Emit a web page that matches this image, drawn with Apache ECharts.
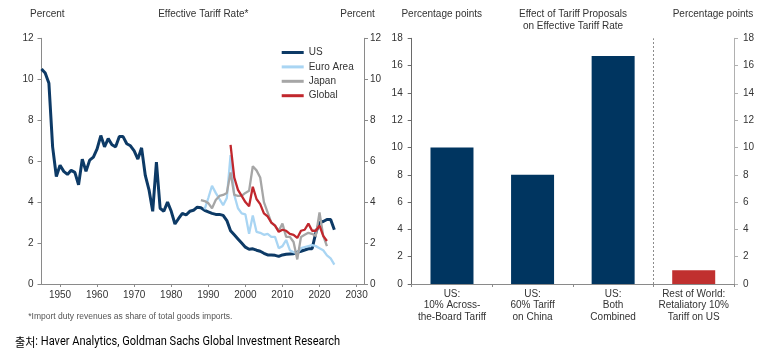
<!DOCTYPE html>
<html><head><meta charset="utf-8">
<script src="https://cdn.jsdelivr.net/npm/echarts@6/dist/echarts.min.js"></script>
<style>html,body{margin:0;padding:0;background:#fff}#c{width:767px;height:354px}</style>
</head><body><div id="c"></div>
<script>
// ---- Left panel: effective tariff rate (%), annual ----
const usStart = 1945;
const usValues = [10.5,10.3,9.8,6.7,5.25,5.8,5.5,5.35,5.55,5.45,
  4.85,6.1,5.5,6.05,6.2,6.6,7.25,6.7,7.1,6.8,
  6.7,7.2,7.2,6.85,6.75,6.5,6.1,6.65,5.3,4.6,
  3.55,5.95,3.7,3.55,4.0,3.55,2.93,3.2,3.45,3.37,
  3.55,3.6,3.75,3.72,3.6,3.52,3.45,3.4,3.4,3.35,
  3.1,2.6,2.4,2.2,2.0,1.8,1.7,1.72,1.65,1.6,
  1.5,1.42,1.42,1.4,1.35,1.42,1.45,1.47,1.48,1.55,
  1.6,1.66,1.72,1.72,2.5,3.0,3.05,3.15,3.15,2.65];
const euroStart = 1989;
const euroValues = [3.65,4.2,4.8,4.45,4.15,3.85,4.2,6.3,4.35,3.7,
  3.45,3.4,2.45,3.35,2.55,2.5,2.4,2.45,2.3,2.3,
  1.75,1.85,2.15,1.65,1.55,1.5,1.75,1.8,1.85,1.9,
  1.85,1.75,1.65,1.4,1.25,0.95];
const japanStart = 1988;
const japanValues = [4.1,4.05,3.95,3.7,4.1,4.3,4.35,4.45,5.45,4.35,
  4.3,4.3,4.45,4.55,5.75,5.55,5.2,4.0,3.5,3.0,
  2.85,2.6,2.95,2.3,2.3,2.05,1.2,2.3,2.4,2.5,
  2.45,2.35,3.5,2.35,1.85];
const globalStart = 1996;
const globalValues = [6.8,5.2,4.6,4.3,4.0,3.8,4.75,4.15,3.9,3.45,
  3.3,3.0,2.85,2.55,2.65,2.6,2.45,2.4,2.25,2.6,
  2.65,2.95,2.6,2.6,2.85,2.35,2.1];
const yearTicks = [1950,1960,1970,1980,1990,2000,2010,2020,2030];

// ---- Right panel: effect of tariff proposals (pp) ----
const barCategories = ['US:\n10% Across-\nthe-Board Tariff','US:\n60% Tariff\non China','US:\nBoth\nCombined','Rest of World:\nRetaliatory 10%\nTariff on US'];
const barValues = [10, 8, 16.7, 1];
const usProposalCount = 3; // first three bars are US proposals; divider after them

const pairs = (start, vals) => vals.map((v, i) => [start + i, v]);
const FONT = "'Liberation Sans', Arial, sans-serif";
const TXT = '#333';
const AX = '#8a8a8a';

const chart = echarts.init(document.getElementById('c'), null, {renderer: 'canvas'});

function yAx(grid, pos, max, interval, margin, color) {
  return {
    type: 'value', gridIndex: grid, position: pos, min: 0, max: max, interval: interval,
    axisLine: {show: true, lineStyle: {color: color, width: 1}},
    axisTick: {show: true, length: 4, lineStyle: {color: color}},
    axisLabel: {color: TXT, fontSize: 10, fontFamily: FONT, margin: margin},
    splitLine: {show: false}
  };
}

const lineCommon = {type: 'line', xAxisIndex: 0, yAxisIndex: 0, showSymbol: false, symbol: 'none', smooth: false, z: 3};

chart.setOption({
  animation: false,
  backgroundColor: '#fff',
  textStyle: {fontFamily: FONT},
  grid: [
    {left: 41.5, right: 403, top: 38.3, bottom: 70},
    {left: 411.7, right: 33, top: 38.3, bottom: 70}
  ],
  xAxis: [
    {
      type: 'value', gridIndex: 0, min: 1945, max: 2032,
      axisLine: {show: true, lineStyle: {color: AX}},
      axisTick: {show: true, length: 3, lineStyle: {color: AX}, customValues: yearTicks},
      axisLabel: {color: TXT, fontSize: 10, fontFamily: FONT, margin: 6, customValues: yearTicks, formatter: (v) => String(v)},
      splitLine: {show: false}
    },
    {
      type: 'category', gridIndex: 1, data: barCategories,
      axisLine: {show: true, lineStyle: {color: AX}},
      axisTick: {show: true, length: 3, lineStyle: {color: AX}},
      axisLabel: {color: TXT, fontSize: 10, fontFamily: FONT, margin: 4, lineHeight: 11.5, interval: 0},
      splitLine: {show: false}
    },
    {
      type: 'value', gridIndex: 1, min: 0, max: barCategories.length, show: false
    }
  ],
  yAxis: [
    yAx(0, 'left', 12, 2, 8, AX),
    yAx(0, 'right', 12, 2, 6, AX),
    yAx(1, 'left', 18, 2, 9, '#6a6a6a'),
    yAx(1, 'right', 18, 2, 9, '#b0b0b0')
  ],
  legend: {
    orient: 'vertical', left: 281.7, top: 46.5, padding: 0,
    icon: 'rect', itemWidth: 22, itemHeight: 3, itemGap: 2.4,
    textStyle: {color: TXT, fontSize: 10, fontFamily: FONT, lineHeight: 12},
    data: ['US', 'Euro Area', 'Japan', 'Global']
  },
  series: [
    Object.assign({}, lineCommon, {name: 'US', data: pairs(usStart, usValues), color: '#0d3a66', lineStyle: {width: 3, color: '#0d3a66'}}),
    Object.assign({}, lineCommon, {name: 'Euro Area', data: pairs(euroStart, euroValues), color: '#a9d5f3', lineStyle: {width: 2.3, color: '#a9d5f3'}}),
    Object.assign({}, lineCommon, {name: 'Japan', data: pairs(japanStart, japanValues), color: '#a6a6a6', lineStyle: {width: 2.3, color: '#a6a6a6'}}),
    Object.assign({}, lineCommon, {name: 'Global', data: pairs(globalStart, globalValues), color: '#c1272d', lineStyle: {width: 2.3, color: '#c1272d'}}),
    {
      type: 'bar', xAxisIndex: 1, yAxisIndex: 2, barWidth: 43,
      data: barValues.map((v, i) => ({value: v, itemStyle: {color: i >= usProposalCount ? '#c0302f' : '#003560'}}))
    },
    {
      type: 'line', xAxisIndex: 2, yAxisIndex: 2, data: [], silent: true,
      markLine: {
        silent: true, symbol: 'none', label: {show: false},
        lineStyle: {color: '#8c8c8c', type: [2, 2], width: 1},
        data: [{xAxis: usProposalCount}]
      }
    }
  ],
  graphic: [
    {type: 'text', x: 47.3, y: 14.3, style: {text: 'Percent', font: '10px ' + FONT, fill: TXT, textAlign: 'center', textVerticalAlign: 'middle'}},
    {type: 'text', x: 203.3, y: 14.3, style: {text: 'Effective Tariff Rate*', font: '10px ' + FONT, fill: TXT, textAlign: 'center', textVerticalAlign: 'middle'}},
    {type: 'text', x: 357.5, y: 14.3, style: {text: 'Percent', font: '10px ' + FONT, fill: TXT, textAlign: 'center', textVerticalAlign: 'middle'}},
    {type: 'text', x: 441.7, y: 14.3, style: {text: 'Percentage points', font: '10px ' + FONT, fill: TXT, textAlign: 'center', textVerticalAlign: 'middle'}},
    {type: 'text', x: 573, y: 20.7, style: {text: 'Effect of Tariff Proposals\non Effective Tariff Rate', font: '10px ' + FONT, lineHeight: 12, fill: TXT, textAlign: 'center', textVerticalAlign: 'middle'}},
    {type: 'text', x: 713, y: 14.3, style: {text: 'Percentage points', font: '10px ' + FONT, fill: TXT, textAlign: 'center', textVerticalAlign: 'middle'}},
    {type: 'text', x: 28.3, y: 316.7, style: {text: '*Import duty revenues as share of total goods imports.', font: '8.5px ' + FONT, fill: '#555', textAlign: 'left', textVerticalAlign: 'middle'}},
    {type: 'text', x: 15, y: 342, scaleX: 0.885, style: {
      text: '{k|출처}{e|: Haver Analytics, Goldman Sachs Global Investment Research}',
      textAlign: 'left', textVerticalAlign: 'middle',
      rich: {
        k: {fontFamily: "'Noto Sans CJK KR'", fontSize: 12.5, color: '#24324f'},
        e: {fontFamily: "Roboto", fontSize: 12.5, color: '#24324f'}
      }
    }}
  ]
});
</script>
</body></html>
